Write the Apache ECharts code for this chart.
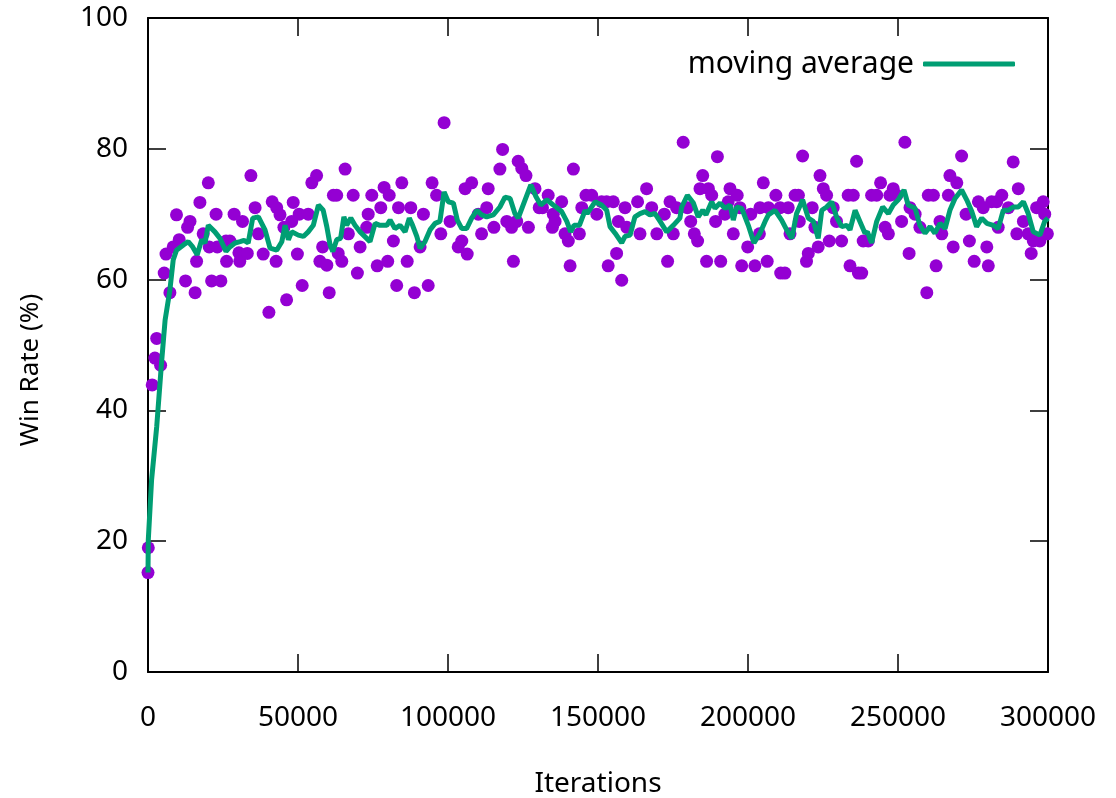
<!DOCTYPE html>
<html>
<head>
<meta charset="utf-8">
<script src="https://cdn.jsdelivr.net/npm/echarts@6/dist/echarts.min.js"></script>
<style>
  html, body { margin: 0; padding: 0; background: #fff; }
  #chart { width: 1116px; height: 798px; }
</style>
</head>
<body>
<div id="chart"></div>
<script>
// win rate samples [iteration, %]
var winPoints = [
  [0,15.2],[100,19.0],[1400,43.9],[2300,48.0],[2900,51.0],[4200,46.9],[5400,61.0],[6000,63.9],[7300,58.0],[8400,65.0],
  [9500,69.9],[10400,66.1],[12500,59.8],[13200,68.0],[14000,68.9],[15700,58.0],[16200,62.8],[17300,71.8],[18400,67.0],[20100,74.8],
  [20400,65.0],[21200,59.8],[22700,70.0],[23100,65.0],[24300,59.8],[26000,65.9],[26200,62.8],[27300,65.9],[28700,70.0],[30300,64.1],
  [30600,62.8],[31500,68.9],[33100,64.0],[34300,75.9],[35700,71.0],[36800,67.0],[38400,63.9],[40300,55.0],[41400,71.9],[42700,62.8],
  [42900,71.0],[44000,69.9],[45300,68.0],[46200,56.9],[47900,68.9],[48400,71.8],[49800,63.9],[50400,70.0],[51400,59.1],[53400,70.0],
  [54600,74.8],[56200,75.9],[57300,62.8],[58200,65.0],[59600,62.2],[60400,58.0],[61800,72.9],[62900,72.9],[63400,64.0],[64600,62.8],
  [65700,76.9],[66800,67.0],[68400,72.9],[69800,61.0],[70700,65.0],[72900,68.0],[73400,70.0],[74600,72.9],[76400,62.1],[77600,71.0],
  [78700,74.1],[79900,62.8],[80400,72.9],[81800,65.9],[82900,59.1],[83500,71.0],[84600,74.8],[86400,62.8],[87600,71.0],[88800,58.0],
  [90700,65.0],[91800,70.0],[93400,59.1],[94700,74.8],[96200,72.9],[97600,67.0],[98700,84.0],[100700,68.9],[103400,65.0],[104600,65.9],
  [105700,73.9],[106400,63.9],[107900,74.8],[110100,70.0],[111200,67.0],[112900,71.0],[113400,73.9],[115300,68.0],[117300,76.9],[118200,79.9],
  [119600,68.9],[121200,68.0],[121800,62.8],[122900,68.9],[123400,78.1],[124600,77.0],[126000,75.9],[126800,68.0],[129000,73.9],[130400,71.0],
  [131500,71.0],[133400,72.9],[134800,68.0],[135100,70.0],[135700,68.9],[137900,71.9],[139000,67.0],[140100,65.9],[140700,62.1],[141800,76.9],
  [143800,67.0],[144600,71.0],[146000,72.9],[147900,72.9],[149600,70.0],[151200,71.9],[152900,71.9],[153400,62.1],[155100,71.9],[156200,64.0],
  [156800,68.9],[157900,59.9],[159000,71.0],[159600,68.0],[163200,71.9],[164000,67.0],[166200,73.9],[167900,71.0],[169600,67.0],[172100,70.0],
  [173200,62.8],[174000,71.9],[175100,67.0],[176200,71.0],[178400,81.0],[179800,71.0],[180900,68.9],[182100,67.0],[183200,65.9],[184000,73.9],
  [184900,75.9],[186200,62.8],[186800,73.9],[187900,72.9],[189200,68.9],[189800,78.8],[190900,62.8],[192300,70.0],[193400,71.9],[194000,73.9],
  [195100,67.0],[196400,72.9],[197300,71.0],[197900,62.1],[199900,65.0],[200900,70.0],[202300,62.1],[203800,67.0],[204000,71.0],[205100,74.8],
  [206400,62.8],[206800,71.0],[209300,72.9],[210700,71.0],[210900,61.0],[212300,61.0],[213400,71.0],[214000,67.0],[215700,72.9],[216800,72.9],
  [217100,68.9],[218200,78.9],[219500,62.8],[220100,64.0],[221400,71.0],[222300,68.0],[223400,65.0],[224000,75.9],[225100,73.9],[226200,72.9],
  [227100,65.9],[228400,71.0],[229500,68.9],[231200,65.9],[233400,72.9],[234000,62.1],[235100,72.9],[236200,78.1],[236800,61.0],[237900,61.0],
  [238400,65.9],[240100,65.9],[241200,72.9],[242900,72.9],[244200,74.8],[245700,68.0],[246800,67.0],[247300,72.9],[248400,73.9],[249600,72.9],
  [251200,68.9],[252300,81.0],[253700,64.0],[254000,71.0],[255700,70.0],[257300,68.0],[259600,58.0],[260100,72.9],[261800,72.9],[262700,62.1],
  [264000,68.9],[264600,67.0],[266800,72.9],[267300,75.9],[268400,65.0],[269600,74.8],[271200,78.9],[272700,70.0],[273800,65.9],[275400,62.8],
  [276800,71.9],[278400,71.0],[279600,65.0],[280100,62.1],[281200,71.9],[282900,71.9],[283400,68.0],[284600,72.9],[286800,71.0],[288400,78.0],
  [289600,67.0],[290100,73.9],[291800,68.9],[293400,67.0],[294400,64.0],[295100,65.9],[296200,71.0],[297300,65.9],[298400,71.9],[298900,70.0],
  [299800,67.0]
];

// moving average [iteration, %]
var avgPoints = [
  [0,15.2],[100,20.2],[1200,29.4],[2900,37.5],[4500,47.2],[5700,53.8],[7300,58.4],[8400,63.0],[9500,64.5],[11800,65.3],
  [13400,65.8],[14900,65.0],[16400,63.8],[17900,66.1],[19000,65.6],[20100,68.3],[22300,67.3],[24000,66.3],[26000,64.3],[27300,65.0],
  [29000,65.6],[30700,65.8],[32000,66.0],[33400,65.6],[34900,69.4],[36800,69.6],[39000,67.6],[40700,64.8],[42900,64.5],[44600,65.8],
  [45700,68.3],[46800,66.1],[47900,67.3],[50100,66.8],[51800,66.6],[53400,67.3],[55100,68.3],[56800,71.4],[58400,70.6],[59600,68.1],
  [60700,65.3],[61600,64.3],[62900,66.1],[64200,66.3],[65300,69.6],[66200,68.3],[67600,69.4],[69000,68.3],[70700,67.3],[72900,66.3],
  [74000,65.8],[75700,68.6],[77300,68.3],[79600,68.3],[80700,69.1],[82300,67.8],[84000,68.3],[85700,67.3],[87100,69.4],[88200,68.3],
  [89600,66.6],[90700,64.8],[92300,65.8],[94000,67.6],[95700,68.6],[97300,68.9],[98700,73.4],[100100,71.9],[101800,71.7],[103100,69.1],
  [104600,67.8],[106200,67.8],[107900,69.4],[109600,70.6],[111200,69.9],[112900,69.6],[115100,69.9],[117300,71.1],[119000,72.6],[120700,72.4],
  [122300,70.1],[123400,69.4],[125700,72.2],[127600,74.5],[129300,72.7],[130900,71.4],[132900,72.2],[135100,71.4],[137900,70.4],[139600,68.9],
  [140900,67.3],[142000,68.3],[143800,68.3],[145700,70.6],[146400,70.1],[149000,71.9],[151200,71.4],[152900,70.6],[154000,68.1],[155700,67.1],
  [157900,65.6],[159000,66.6],[160700,66.8],[162300,69.6],[164000,70.1],[165700,70.4],[167300,69.9],[169000,70.1],[170700,68.9],[172900,67.3],
  [175100,68.3],[177300,69.4],[177900,71.1],[179800,72.9],[181800,71.7],[183400,69.6],[184900,70.6],[186000,69.9],[187900,71.9],[189000,70.9],
  [190700,71.7],[192300,70.9],[194000,71.4],[195100,69.1],[196200,71.1],[197900,70.9],[200100,68.3],[202000,65.6],[204000,67.1],[205700,68.9],
  [206800,69.9],[209000,70.6],[211200,69.1],[212900,67.6],[214600,66.3],[216200,70.1],[218200,72.2],[220100,69.4],[221800,68.9],[223400,66.3],
  [224600,70.6],[226200,71.1],[227900,71.9],[229500,69.6],[231200,68.1],[232900,68.3],[234000,67.6],[235700,70.6],[237300,68.9],[239000,67.1],
  [239800,67.3],[241200,65.6],[242900,68.9],[244900,71.1],[246800,70.1],[248400,71.4],[250100,72.2],[252000,73.7],[253400,71.4],[255700,70.9],
  [257300,68.3],[259000,67.1],[260700,68.1],[262300,67.1],[264000,68.6],[265700,67.8],[267300,70.6],[269000,72.4],[271200,73.7],[272900,72.2],
  [274600,70.4],[276200,68.1],[277900,69.4],[279600,68.6],[281800,68.3],[283400,67.8],[285100,70.6],[286800,70.6],[288400,71.1],[290100,71.1],
  [291800,71.9],[293400,70.1],[295100,67.3],[297300,66.8],[298900,68.9],[300000,69.4]
];

var xTicks = { min: 0, max: 300000, interval: 50000 };
var yTicks = { min: 0, max: 100, interval: 20 };

var chart = echarts.init(document.getElementById('chart'), null, { renderer: 'canvas' });

var fontFamily = '"Noto Sans", "Open Sans", sans-serif';
var black = '#000';

function mirrorAxis(pos, range) {
  return {
    type: 'value',
    position: pos,
    min: range.min,
    max: range.max,
    interval: range.interval,
    axisLine: { show: true, onZero: false, lineStyle: { color: black, width: 2 } },
    axisTick: { show: true, inside: true, length: 18, lineStyle: { color: black, width: 1.5 } },
    axisLabel: { show: false },
    splitLine: { show: false }
  };
}

var option = {
  backgroundColor: '#fff',
  animation: false,
  textStyle: { fontFamily: fontFamily },
  grid: { left: 148, right: 68, top: 18, bottom: 126, containLabel: false, outerBoundsMode: 'none' },
  legend: {
    right: 96,
    top: 44,
    align: 'right',
    itemWidth: 92,
    itemHeight: 5,
    itemGap: 0,
    textStyle: { fontSize: 30, color: black, fontFamily: fontFamily, padding: [0, 4, 0, 0] },
    data: [{ name: 'moving average', icon: 'roundRect' }]
  },
  xAxis: [
    {
      type: 'value',
      position: 'bottom',
      min: xTicks.min,
      max: xTicks.max,
      interval: xTicks.interval,
      name: 'Iterations',
      nameLocation: 'middle',
      nameGap: 98,
      nameTextStyle: { fontSize: 28, color: black, fontFamily: fontFamily },
      axisLine: { show: true, onZero: false, lineStyle: { color: black, width: 2 } },
      axisTick: { show: true, inside: true, length: 18, lineStyle: { color: black, width: 1.5 } },
      axisLabel: {
        fontSize: 28, color: black, margin: 32, fontFamily: fontFamily,
        formatter: function (v) { return String(v); }
      },
      splitLine: { show: false }
    },
    mirrorAxis('top', xTicks)
  ],
  yAxis: [
    {
      type: 'value',
      position: 'left',
      min: yTicks.min,
      max: yTicks.max,
      interval: yTicks.interval,
      name: 'Win Rate (%)',
      nameLocation: 'middle',
      nameGap: 104,
      nameTextStyle: { fontSize: 26, color: black, fontFamily: fontFamily, padding: [0, 50, 0, 0] },
      axisLine: { show: true, onZero: false, lineStyle: { color: black, width: 2 } },
      axisTick: { show: true, inside: true, length: 18, lineStyle: { color: black, width: 1.5 } },
      axisLabel: { fontSize: 28, color: black, margin: 20, fontFamily: fontFamily },
      splitLine: { show: false }
    },
    mirrorAxis('right', yTicks)
  ],
  series: [
    {
      name: 'win rate',
      type: 'scatter',
      symbol: 'circle',
      symbolSize: 13,
      clip: false,
      itemStyle: { color: '#9400d3', opacity: 1 },
      data: winPoints,
      z: 2
    },
    {
      name: 'moving average',
      type: 'line',
      showSymbol: false,
      symbol: 'none',
      clip: false,
      lineStyle: { color: '#009e73', width: 5 },
      itemStyle: { color: '#009e73' },
      data: avgPoints,
      z: 3
    }
  ]
};

chart.setOption(option);
</script>
</body>
</html>
